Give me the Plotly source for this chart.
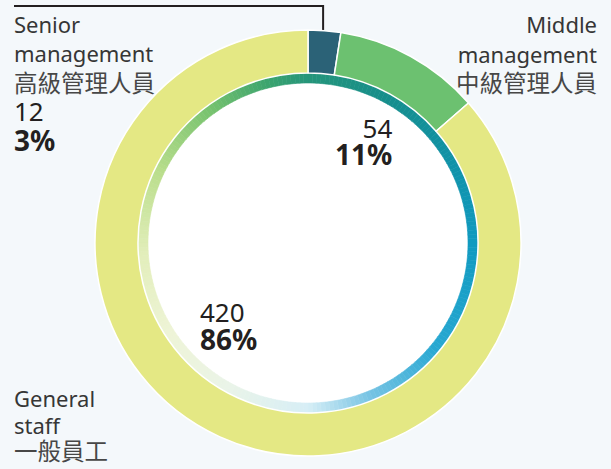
import math
import plotly.graph_objects as go

W, H = 611, 469

# ---- data ----
categories_en = ["Senior management", "Middle management", "General staff"]
categories_zh = ["高級管理人員", "中級管理人員", "一般員工"]
headcount = [12, 54, 420]
percent_labels = ["3%", "11%", "86%"]
slice_colors = ["#2b6277", "#6cc170", "#e4e884"]

# gradient ring stops (fraction clockwise from 12 o'clock, colour)
grad_stops = [
    (0.00, (37, 149, 122)),
    (0.08, (22, 142, 140)),
    (0.17, (16, 146, 168)),
    (0.25, (16, 154, 192)),
    (0.36, (40, 168, 210)),
    (0.44, (120, 196, 228)),
    (0.50, (214, 238, 246)),
    (0.58, (234, 244, 232)),
    (0.66, (238, 244, 214)),
    (0.74, (226, 238, 186)),
    (0.82, (186, 222, 140)),
    (0.90, (118, 194, 110)),
    (0.96, (60, 164, 110)),
    (1.00, (37, 149, 122)),
]

# ---- geometry (pixels) ----
CX, CY = 308, 243
R_OUT, R_MID, R_IN = 213, 170, 160


def dom(r):
    return dict(x=[(CX - r) / W, (CX + r) / W],
                y=[1 - (CY + r) / H, 1 - (CY - r) / H])


def grad_color(t):
    for (t0, c0), (t1, c1) in zip(grad_stops[:-1], grad_stops[1:]):
        if t0 <= t <= t1:
            f = (t - t0) / (t1 - t0) if t1 > t0 else 0
            c = [round(a + (b - a) * f) for a, b in zip(c0, c1)]
            return "rgb(%d,%d,%d)" % tuple(c)
    return "rgb(%d,%d,%d)" % grad_stops[-1][1]


N = 240
g_cols = [grad_color((i + 0.5) / N) for i in range(N)]

fig = go.Figure()

# white centre
fig.add_trace(go.Pie(values=[1], marker=dict(colors=["#ffffff"], line=dict(width=0)),
                     domain=dom(R_IN + 1), textinfo="none", hoverinfo="skip",
                     showlegend=False, sort=False))

# gradient ring
fig.add_trace(go.Pie(values=[1] * N, marker=dict(colors=g_cols, line=dict(color=g_cols, width=0.6)),
                     domain=dom(R_MID), hole=R_IN / R_MID, textinfo="none", hoverinfo="skip",
                     showlegend=False, sort=False, direction="clockwise", rotation=0))

# main donut
fig.add_trace(go.Pie(values=headcount, labels=categories_en,
                     marker=dict(colors=slice_colors, line=dict(color="#ffffff", width=1.5)),
                     domain=dom(R_OUT), hole=R_MID / R_OUT, textinfo="none",
                     showlegend=False, sort=False, direction="clockwise", rotation=0))

# leader line from senior slice to the label
total = sum(headcount)
a = 2 * math.pi * (headcount[0] / 2) / total
r_dot = 195
dx, dy = CX + r_dot * math.sin(a), CY - r_dot * math.cos(a)
fig.add_trace(go.Scatter(x=[dx, dx, 14], y=[dy, 6, 6], mode="lines",
                         line=dict(color="#231f20", width=2), hoverinfo="skip", showlegend=False))
fig.add_trace(go.Scatter(x=[dx], y=[dy], mode="markers",
                         marker=dict(color="#231f20", size=9), hoverinfo="skip", showlegend=False))

FONT = "Noto Sans, Noto Sans CJK TC, sans-serif"
TXT = "#363636"
ZH = "#474747"
BLK = "#231f20"


def sp(text, size, color, bold=False):
    s = "<span style='font-size:%spx;color:%s'>%s</span>" % (size, color, text)
    return "<b>%s</b>" % s if bold else s


def ann(x, ytop, lines, base, xanchor):
    fig.add_annotation(x=x / W, y=1 - ytop / H, xref="paper", yref="paper",
                       text="<br>".join(lines), showarrow=False, xanchor=xanchor,
                       yanchor="top", align=xanchor, borderpad=0,
                       font=dict(family=FONT, size=base, color=TXT))


EN, ZHS, NUM, PCT = 22, 23.5, 26, 28


def label_lines(idx, with_numbers):
    w = categories_en[idx].split(" ")
    out = [sp(w[0], EN, TXT), sp(w[1], EN, TXT), sp(categories_zh[idx], ZHS, ZH)]
    if with_numbers:
        out += [sp(str(headcount[idx]), NUM, BLK), sp(percent_labels[idx], PCT, BLK, True)]
    return out


ann(13, 7.5, label_lines(0, True), 22.6, "left")
ann(598, 8, label_lines(1, False), 22.8, "right")
ann(13, 382, label_lines(2, False), 20.4, "left")
ann(393, 109, [sp(str(headcount[1]), NUM, BLK), sp(percent_labels[1], PCT, BLK, True)], 21, "right")
ann(199, 293, [sp(str(headcount[2]), NUM, BLK), sp(percent_labels[2], PCT, BLK, True)], 21.5, "left")

fig.update_layout(
    width=W, height=H, margin=dict(l=0, r=0, t=0, b=0),
    paper_bgcolor="#f4f8fb", plot_bgcolor="rgba(0,0,0,0)",
    xaxis=dict(range=[0, W], visible=False, fixedrange=True),
    yaxis=dict(range=[H, 0], visible=False, fixedrange=True),
)

fig.write_html("out.html", config={"displayModeBar": False},
               post_script="document.body.style.margin='0';document.body.style.overflow='hidden';")
